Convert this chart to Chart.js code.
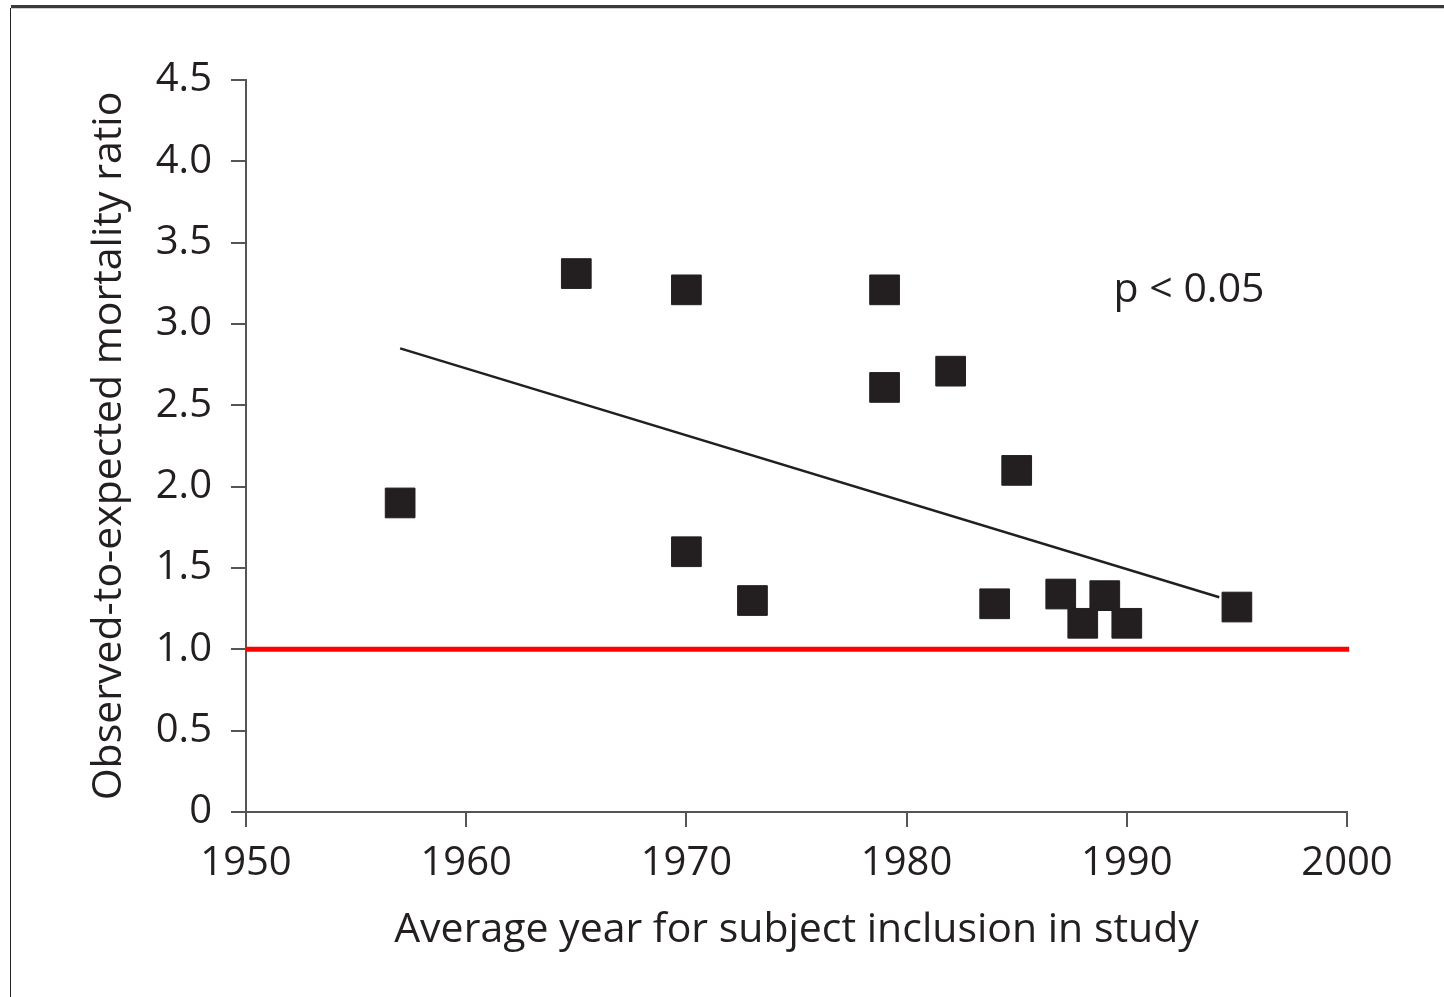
<!DOCTYPE html>
<html>
<head>
<meta charset="utf-8">
<script src="https://cdn.jsdelivr.net/npm/chart.js@4/dist/chart.umd.min.js"></script>
<style>
  html, body { margin: 0; padding: 0; background: #fff; }
  #wrap { width: 1444px; height: 997px; position: relative; }
</style>
</head>
<body>
<div id="wrap"><canvas id="mortChart" width="1444" height="997"></canvas></div>
<script>
// study points: average inclusion year vs observed/expected mortality
const years  = [1957, 1965, 1970, 1970, 1973, 1979, 1979, 1982, 1984, 1985, 1987, 1988, 1989, 1990, 1995];
const ratios = [1.90, 3.31, 3.21, 1.60, 1.30, 3.21, 2.61, 2.71, 1.28, 2.10, 1.34, 1.16, 1.33, 1.16, 1.26];

// regression line end points
const trendYears  = [1957, 1994.2];
const trendValues = [2.85, 1.32];

// reference line O/E = 1
const refYears  = [1950, 2000.1];
const refValues = [1.0, 1.0];

const xTicks = [1950, 1960, 1970, 1980, 1990, 2000];
const yTicks = [0, 0.5, 1.0, 1.5, 2.0, 2.5, 3.0, 3.5, 4.0, 4.5];

const pLabel = "p < 0.05";
const pPos = { x: 1989.4, y: 3.21 };

const ink = "#231f20";
const fontFamily = "'Open Sans', sans-serif";

const toPoints = (xs, ys) => xs.map((x, i) => ({ x: x, y: ys[i] }));

// page frame + p-value text
const extras = {
    id: "extras",
    beforeDraw(chart) {
        const ctx = chart.ctx;
        ctx.save();
        ctx.fillStyle = "#fff";
        ctx.fillRect(0, 0, chart.width, chart.height);
        ctx.fillStyle = "#3a3a3a";
        ctx.fillRect(11, 5, chart.width - 11, 3);
        ctx.fillStyle = "#cfcfcf";
        ctx.fillRect(11, 8, chart.width - 11, 1);
        ctx.fillStyle = "#222";
        ctx.fillRect(10, 8, 1, chart.height - 8);
        ctx.restore();
    },
    afterDatasetsDraw(chart) {
        const ctx = chart.ctx;
        const xs = chart.scales.x, ys = chart.scales.y;
        ctx.save();
        ctx.fillStyle = ink;
        ctx.font = "41px " + fontFamily;
        ctx.textAlign = "left";
        ctx.textBaseline = "middle";
        ctx.fillText(pLabel, xs.getPixelForValue(pPos.x), ys.getPixelForValue(pPos.y));
        ctx.restore();
    }
};

new Chart(document.getElementById("mortChart").getContext("2d"), {
    type: "scatter",
    data: {
        datasets: [
            {
                label: "reference",
                type: "line",
                data: toPoints(refYears, refValues),
                borderColor: "#ff0000",
                borderWidth: 5,
                pointRadius: 0,
                clip: false
            },
            {
                label: "trend",
                type: "line",
                data: toPoints(trendYears, trendValues),
                borderColor: ink,
                borderWidth: 2.5,
                pointRadius: 0
            },
            {
                label: "studies",
                data: toPoints(years, ratios),
                pointStyle: "rect",
                pointRadius: 21,
                backgroundColor: ink,
                borderColor: ink,
                borderWidth: 1
            }
        ]
    },
    options: {
        responsive: false,
        animation: false,
        layout: { padding: { top: 80, right: 97, bottom: 0, left: 0 } },
        plugins: {
            legend: { display: false },
            tooltip: { enabled: false }
        },
        scales: {
            x: {
                type: "linear",
                min: 1950,
                max: 2000,
                afterBuildTicks: (s) => { s.ticks = xTicks.map(v => ({ value: v })); },
                afterFit: (s) => { s.height = 185; },
                grid: { display: true, drawOnChartArea: false, drawTicks: true, tickLength: 15, color: "#555", lineWidth: 2 },
                border: { display: true, color: "#555", width: 2 },
                ticks: {
                    color: ink,
                    padding: 13,
                    font: { family: fontFamily, size: 40 },
                    callback: (v) => String(v)
                },
                title: {
                    display: true,
                    text: "Average year for subject inclusion in study",
                    color: ink,
                    font: { family: fontFamily, size: 41 },
                    padding: { top: 0, bottom: 42 }
                }
            },
            y: {
                type: "linear",
                min: 0,
                max: 4.5,
                afterBuildTicks: (s) => { s.ticks = yTicks.map(v => ({ value: v })); },
                afterFit: (s) => { s.width = 246; },
                grid: { display: true, drawOnChartArea: false, drawTicks: true, tickLength: 15, color: "#555", lineWidth: 2 },
                border: { display: true, color: "#555", width: 2 },
                ticks: {
                    color: ink,
                    padding: 19,
                    font: { family: fontFamily, size: 40 },
                    callback: (v) => (v === 0 ? "0" : v.toFixed(1))
                },
                title: {
                    display: true,
                    text: "Observed-to-expected mortality ratio",
                    color: ink,
                    font: { family: fontFamily, size: 41 },
                    padding: { top: 85, bottom: 0 }
                }
            }
        }
    },
    plugins: [extras]
});
</script>
</body>
</html>
